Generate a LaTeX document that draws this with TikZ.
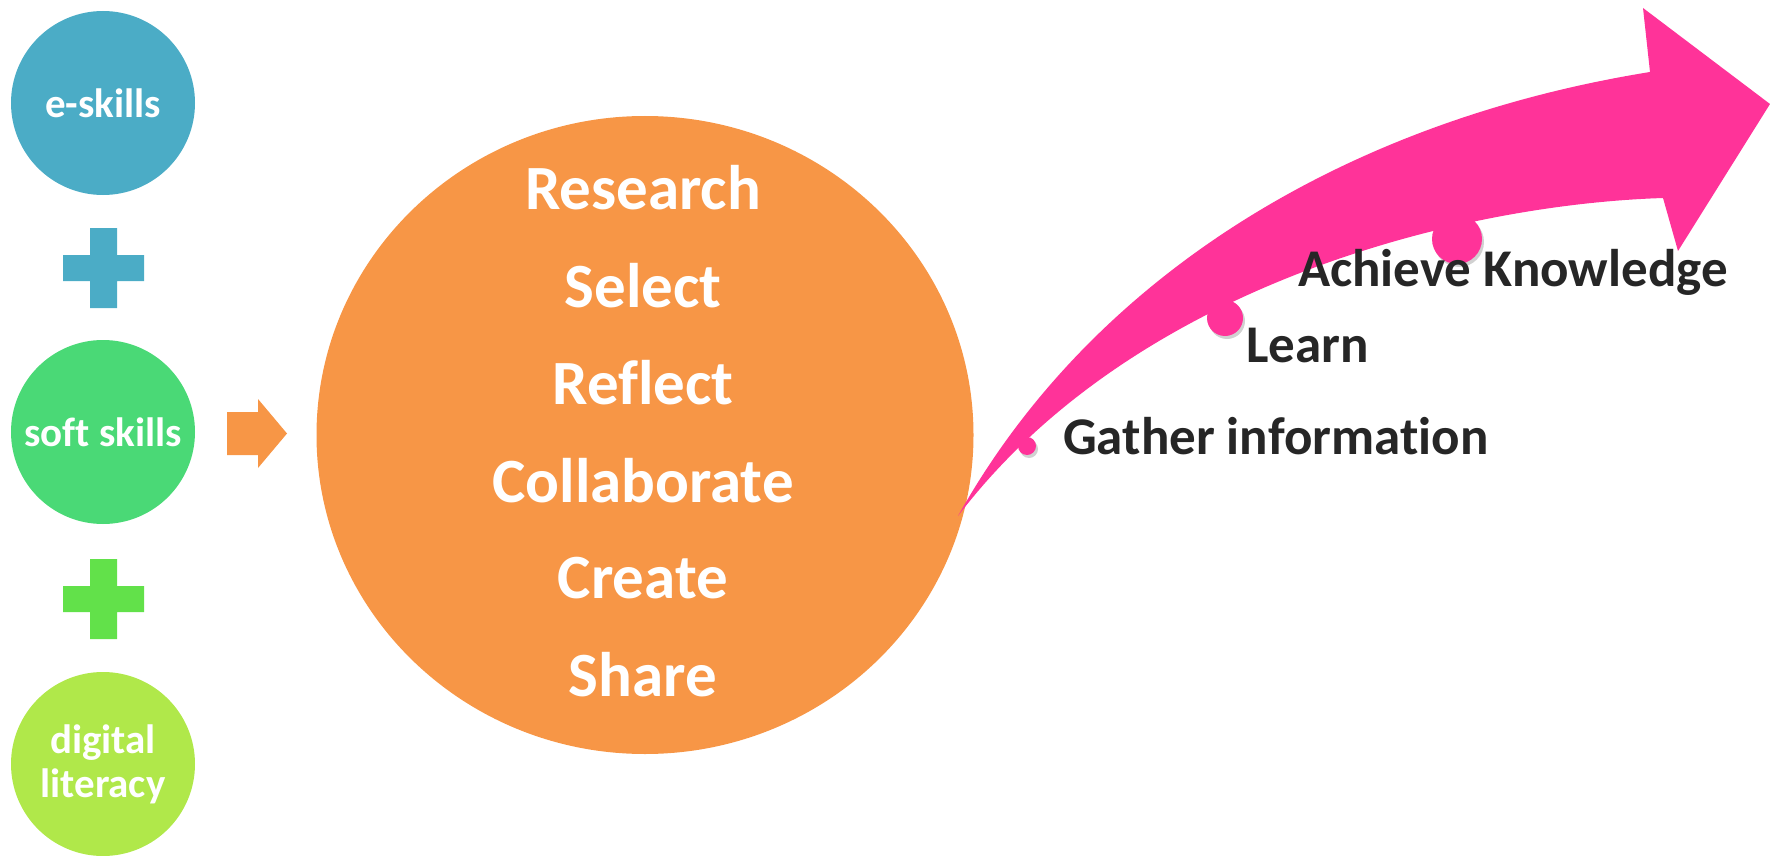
\documentclass[tikz,border=0pt]{standalone}
\usepackage{fontspec}
\setmainfont{Carlito}[Ligatures=NoCommon]
\usetikzlibrary{shapes.geometric}
\definecolor{eblue}{HTML}{4BACC6}
\definecolor{softgreen}{HTML}{4AD976}
\definecolor{plusgreen}{HTML}{62E14A}
\definecolor{litgreen}{HTML}{B0E84A}
\definecolor{orng}{HTML}{F79646}
\definecolor{pnk}{HTML}{FF3399}
\definecolor{textdark}{HTML}{262626}
\begin{document}
\begin{tikzpicture}[x=1pt,y=-1pt,
  skill/.style={circle,minimum size=184pt,inner sep=0pt,text=white,
    font=\fontsize{41}{44}\selectfont\bfseries,align=center},
  word/.style={text=white,font=\fontsize{63}{63}\selectfont\bfseries,anchor=base,inner sep=0pt},
  stage/.style={text=textdark,font=\fontsize{53}{53}\selectfont\bfseries,anchor=base west,inner sep=0pt},
  pdot/.style={circle,fill=pnk,inner sep=0pt},
  shadowed/.style={fill=black,opacity=0.18}]
\useasboundingbox (0,0) rectangle (1770,856);

% left skill circles
\node[skill,fill=eblue] (eskills) at (103,103) {e-skills};
\node[skill,fill=softgreen] (soft) at (103,432) {soft skills};
\node[skill,fill=litgreen] (digital) at (103,764) {digital\\literacy};

% plus signs
\fill[eblue] (63,255) rectangle (144,281) (90,228) rectangle (117,308);
\fill[plusgreen] (63,586) rectangle (144,612) (90,559) rectangle (117,639);

% big orange circle
\node[ellipse,fill=orng,minimum width=657pt,minimum height=638pt,inner sep=0pt] (core) at (645,435) {};
\fill[orng] (227,412) -- (258,412) -- (258,399) -- (287,433.5) -- (258,468) -- (258,455) -- (227,455) -- cycle;

\node[word] (research) at (643,209) {Research};
\node[word] (select) at (643,307) {Select};
\node[word] (reflect) at (643,404) {Reflect};
\node[word] (collab) at (643,502) {Collaborate};
\node[word] (create) at (643,598) {Create};
\node[word] (share) at (643,696) {Share};

% pink curved arrow
\coordinate (tail) at (958,516);
\coordinate (uin) at (1650,72);
\coordinate (lin) at (1663,198);
\fill[pnk] (tail) .. controls (1090,280) and (1340,122) .. (uin)
  -- (1643,8) -- (1770,104) -- (1678,251) -- (lin)
  .. controls (1450,205) and (1130,290) .. (tail) -- cycle;

% dots with faint shadows
\fill[shadowed] (1029,449) circle (9);
\fill[shadowed] (1227,321) circle (18);
\fill[shadowed] (1459,242) circle (25);
\node[pdot,minimum size=18pt] (d1) at (1027,446) {};
\node[pdot,minimum size=36pt] (d2) at (1225,318) {};
\node[pdot,minimum size=50pt] (d3) at (1457,239) {};

\node[stage] (gather) at (1063,454) {Gather information};
\node[stage] (learn) at (1246,362) {Learn};
\node[stage] (achieve) at (1298,286) {Achieve Knowledge};
\end{tikzpicture}
\end{document}
